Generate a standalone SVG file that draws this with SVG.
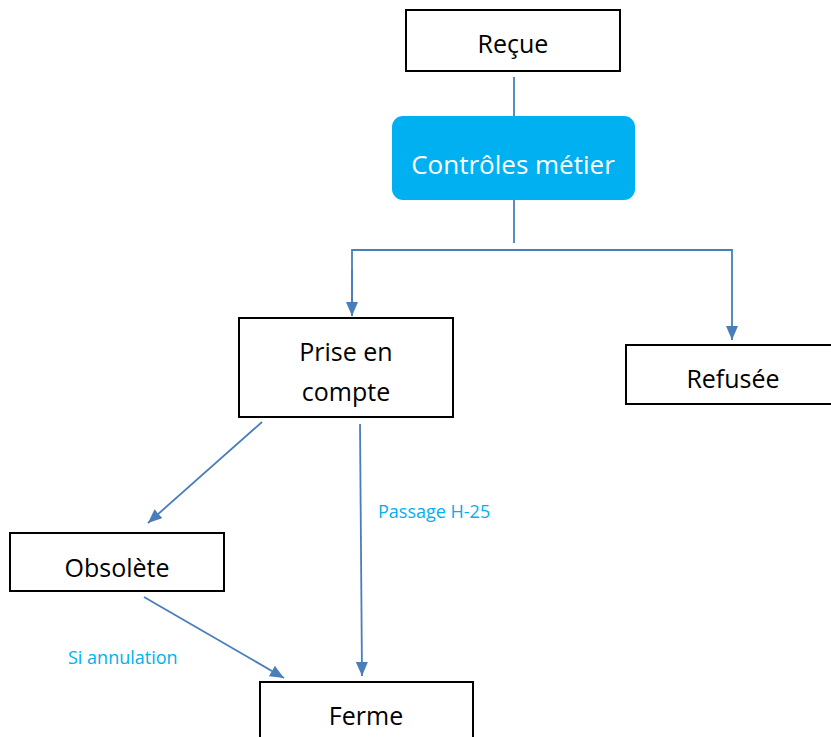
<svg xmlns="http://www.w3.org/2000/svg" width="831" height="737" viewBox="0 0 831 737">
<style>
.box{fill:#fff;stroke:#000;stroke-width:2}
.t{font-family:"Open Sans","Liberation Sans",sans-serif;font-size:25px;fill:#000;text-anchor:middle}
.c{fill:none;stroke:#4A7EBB;stroke-width:1.8}
.lbl{font-family:"Open Sans","Liberation Sans",sans-serif;font-size:18px;fill:#00B0F0}
</style>
<defs>
<marker id="a" viewBox="0 0 14 12" refX="14" refY="6" markerWidth="14" markerHeight="12" markerUnits="userSpaceOnUse" orient="auto">
<path d="M0,0 L14,6 L0,12 z" fill="#4A7EBB"/>
</marker>
</defs>
<g id="connectors">
<line class="c" x1="514" y1="77" x2="514" y2="116"/>
<line class="c" x1="514" y1="200" x2="514" y2="243"/>
<polyline class="c" points="352,316 352,250 732,250 732,340" marker-end="url(#a)"/>
<line class="c" x1="352" y1="270" x2="352" y2="316" marker-end="url(#a)"/>
<line class="c" x1="262" y1="422" x2="148" y2="523" marker-end="url(#a)"/>
<line class="c" x1="360" y1="424" x2="362" y2="676" marker-end="url(#a)"/>
<line class="c" x1="144" y1="597" x2="284" y2="678" marker-end="url(#a)"/>
<text class="lbl" x="378" y="518">Passage H-25</text>
<text class="lbl" x="68" y="664">Si annulation</text>
</g>
<g id="recue">
<rect class="box" x="406" y="10" width="214" height="61"/>
<text class="t" x="513" y="53">Reçue</text>
</g>
<g id="controles">
<rect x="392" y="116" width="243" height="84" rx="11" fill="#00B0F0"/>
<text class="t" x="513" y="174" style="fill:#fff;font-size:26px">Contrôles métier</text>
</g>
<g id="prise">
<rect class="box" x="239" y="318" width="214" height="99"/>
<text class="t" x="346" y="361">Prise en</text>
<text class="t" x="346" y="401">compte</text>
</g>
<g id="refusee">
<rect class="box" x="626" y="345" width="215" height="59"/>
<text class="t" x="733" y="388">Refusée</text>
</g>
<g id="obsolete">
<rect class="box" x="10" y="533" width="214" height="58"/>
<text class="t" x="117" y="577">Obsolète</text>
</g>
<g id="ferme">
<rect class="box" x="260" y="682" width="213" height="70"/>
<text class="t" x="366" y="725">Ferme</text>
</g>
</svg>
